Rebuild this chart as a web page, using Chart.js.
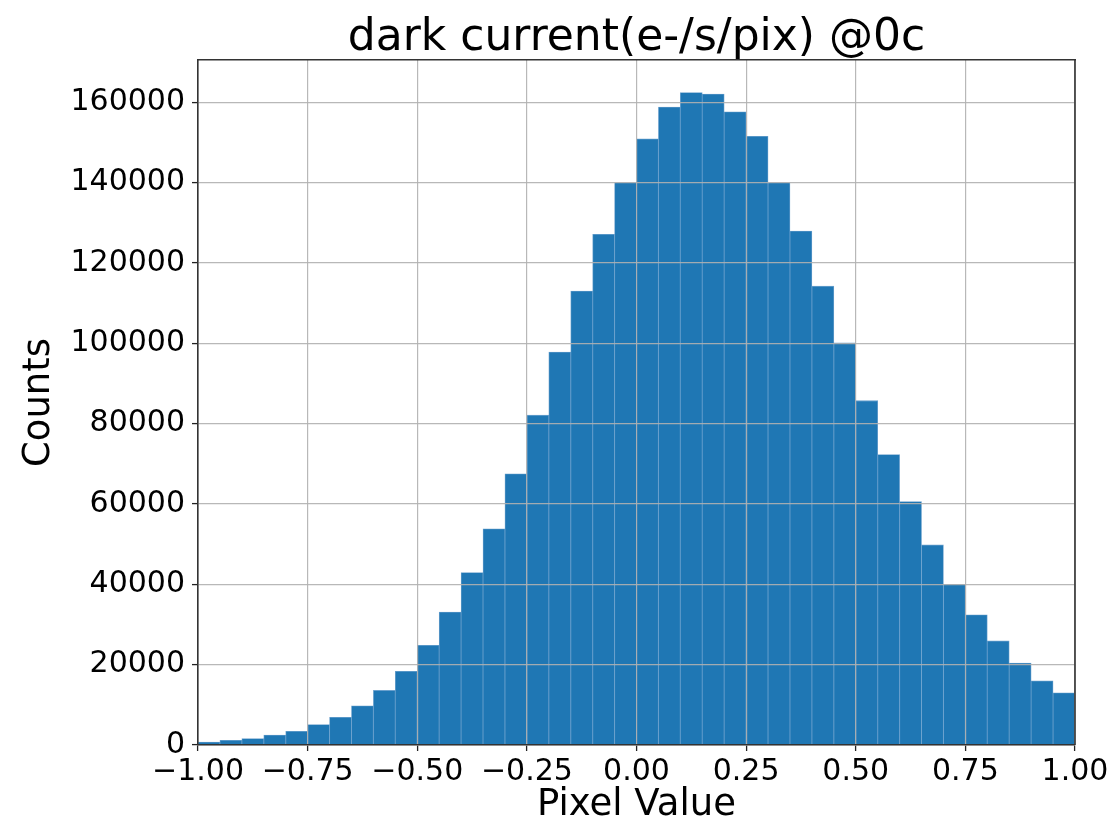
<!DOCTYPE html>
<html>
<head>
<meta charset="utf-8">
<script src="https://cdn.jsdelivr.net/npm/chart.js@4/dist/chart.umd.min.js"></script>
<style>
  html, body { margin: 0; padding: 0; background: #fff; }
  #wrap { width: 1114px; height: 825px; }
</style>
</head>
<body>
<div id="wrap"><canvas id="hist" width="1114" height="825"></canvas></div>
<script>
// histogram of dark current, 40 bins of width 0.05 between -1 and 1
const binCenters = [
  -0.975, -0.925, -0.875, -0.825, -0.775, -0.725, -0.675, -0.625, -0.575, -0.525,
  -0.475, -0.425, -0.375, -0.325, -0.275, -0.225, -0.175, -0.125, -0.075, -0.025,
   0.025,  0.075,  0.125,  0.175,  0.225,  0.275,  0.325,  0.375,  0.425,  0.475,
   0.525,  0.575,  0.625,  0.675,  0.725,  0.775,  0.825,  0.875,  0.925,  0.975
]
const counts = [
  750, 1170, 1580, 2500, 3420, 5080, 6910, 9750, 13580, 18330,
  24830, 33080, 42900, 53800, 67500, 82100, 97800, 113000, 127100, 140000,
  150900, 158800, 162400, 162000, 157600, 151500, 140000, 127900, 114200, 100100,
  85700, 72300, 60600, 49800, 40000, 32400, 25900, 20400, 16000, 13000
]
const xTicks = [-1, -0.75, -0.5, -0.25, 0, 0.25, 0.5, 0.75, 1]
const yTicks = [0, 20000, 40000, 60000, 80000, 100000, 120000, 140000, 160000]

const titleText = 'dark current(e-/s/pix) @0c'
const xLabel = 'Pixel Value'
const yLabel = 'Counts'

Chart.defaults.font.family = '"DejaVu Sans", sans-serif'
Chart.defaults.color = '#000'

// right spine (top spine comes from the top axis border)
const framePlugin = {
  id: 'frame',
  afterDraw(chart) {
    const { ctx, chartArea: a } = chart
    ctx.save()
    ctx.strokeStyle = '#333'
    ctx.lineWidth = 1.6
    ctx.beginPath()
    ctx.moveTo(a.right, a.top)
    ctx.lineTo(a.right, a.bottom)
    ctx.stroke()
    ctx.restore()
  }
}

const fmtX = (v) => (v < 0 ? '\u2212' : '') + Math.abs(v).toFixed(2)
const gridColor = 'rgba(176,176,176,0.9)'

new Chart(document.getElementById('hist'), {
  type: 'bar',
  data: {
    datasets: [{
      data: binCenters.map((x, i) => ({ x: x, y: counts[i] })),
      backgroundColor: '#1f77b4',
      borderColor: 'rgba(90,150,200,0.9)',
      borderWidth: 0.8,
      borderSkipped: 'bottom',
      barPercentage: 1,
      categoryPercentage: 1
    }]
  },
  options: {
    responsive: false,
    animation: false,
    layout: { padding: { top: 0, right: 39, bottom: 0, left: 0 } },
    plugins: {
      legend: { display: false },
      tooltip: { enabled: false },
      title: { display: false }
    },
    scales: {
      x: {
        type: 'linear',
        min: -1,
        max: 1,
        offset: false,
        afterBuildTicks: (s) => { s.ticks = xTicks.map(v => ({ value: v })) },
        afterFit: (s) => { s.height = 80 },
        grid: { color: gridColor, lineWidth: 1.2, z: 1, offset: false, tickLength: 6, tickColor: '#222', tickWidth: 1.3 },
        border: { color: '#333', width: 1.6, z: 2 },
        ticks: { font: { size: 30 }, padding: 3, maxRotation: 0, autoSkip: false, callback: (v) => fmtX(v) },
        title: { display: true, text: xLabel, font: { size: 37, lineHeight: 1.05 }, padding: { top: 0, bottom: 0 } }
      },
      // top axis: carries the plot title (centred over the axes) and the top spine
      xTop: {
        type: 'linear',
        position: 'top',
        min: -1,
        max: 1,
        offset: false,
        afterFit: (s) => { s.height = 60 },
        grid: { display: false, drawTicks: false },
        border: { color: '#333', width: 1.6, z: 2 },
        ticks: { display: false },
        title: { display: true, text: titleText, font: { size: 44, lineHeight: 1 }, padding: { top: 17, bottom: 0 } }
      },
      y: {
        min: 0,
        max: 170500,
        afterBuildTicks: (s) => { s.ticks = yTicks.map(v => ({ value: v })) },
        afterFit: (s) => { s.width = 198 },
        grid: { color: gridColor, lineWidth: 1.2, z: 1, tickLength: 6, tickColor: '#222', tickWidth: 1.3 },
        border: { color: '#333', width: 1.6, z: 2 },
        ticks: { font: { size: 30 }, padding: 7, autoSkip: false, callback: (v) => String(v) },
        title: { display: true, text: yLabel, font: { size: 37, lineHeight: 1.1 }, padding: { top: 19, bottom: 0 } }
      }
    }
  },
  plugins: [framePlugin]
})
</script>
</body>
</html>
